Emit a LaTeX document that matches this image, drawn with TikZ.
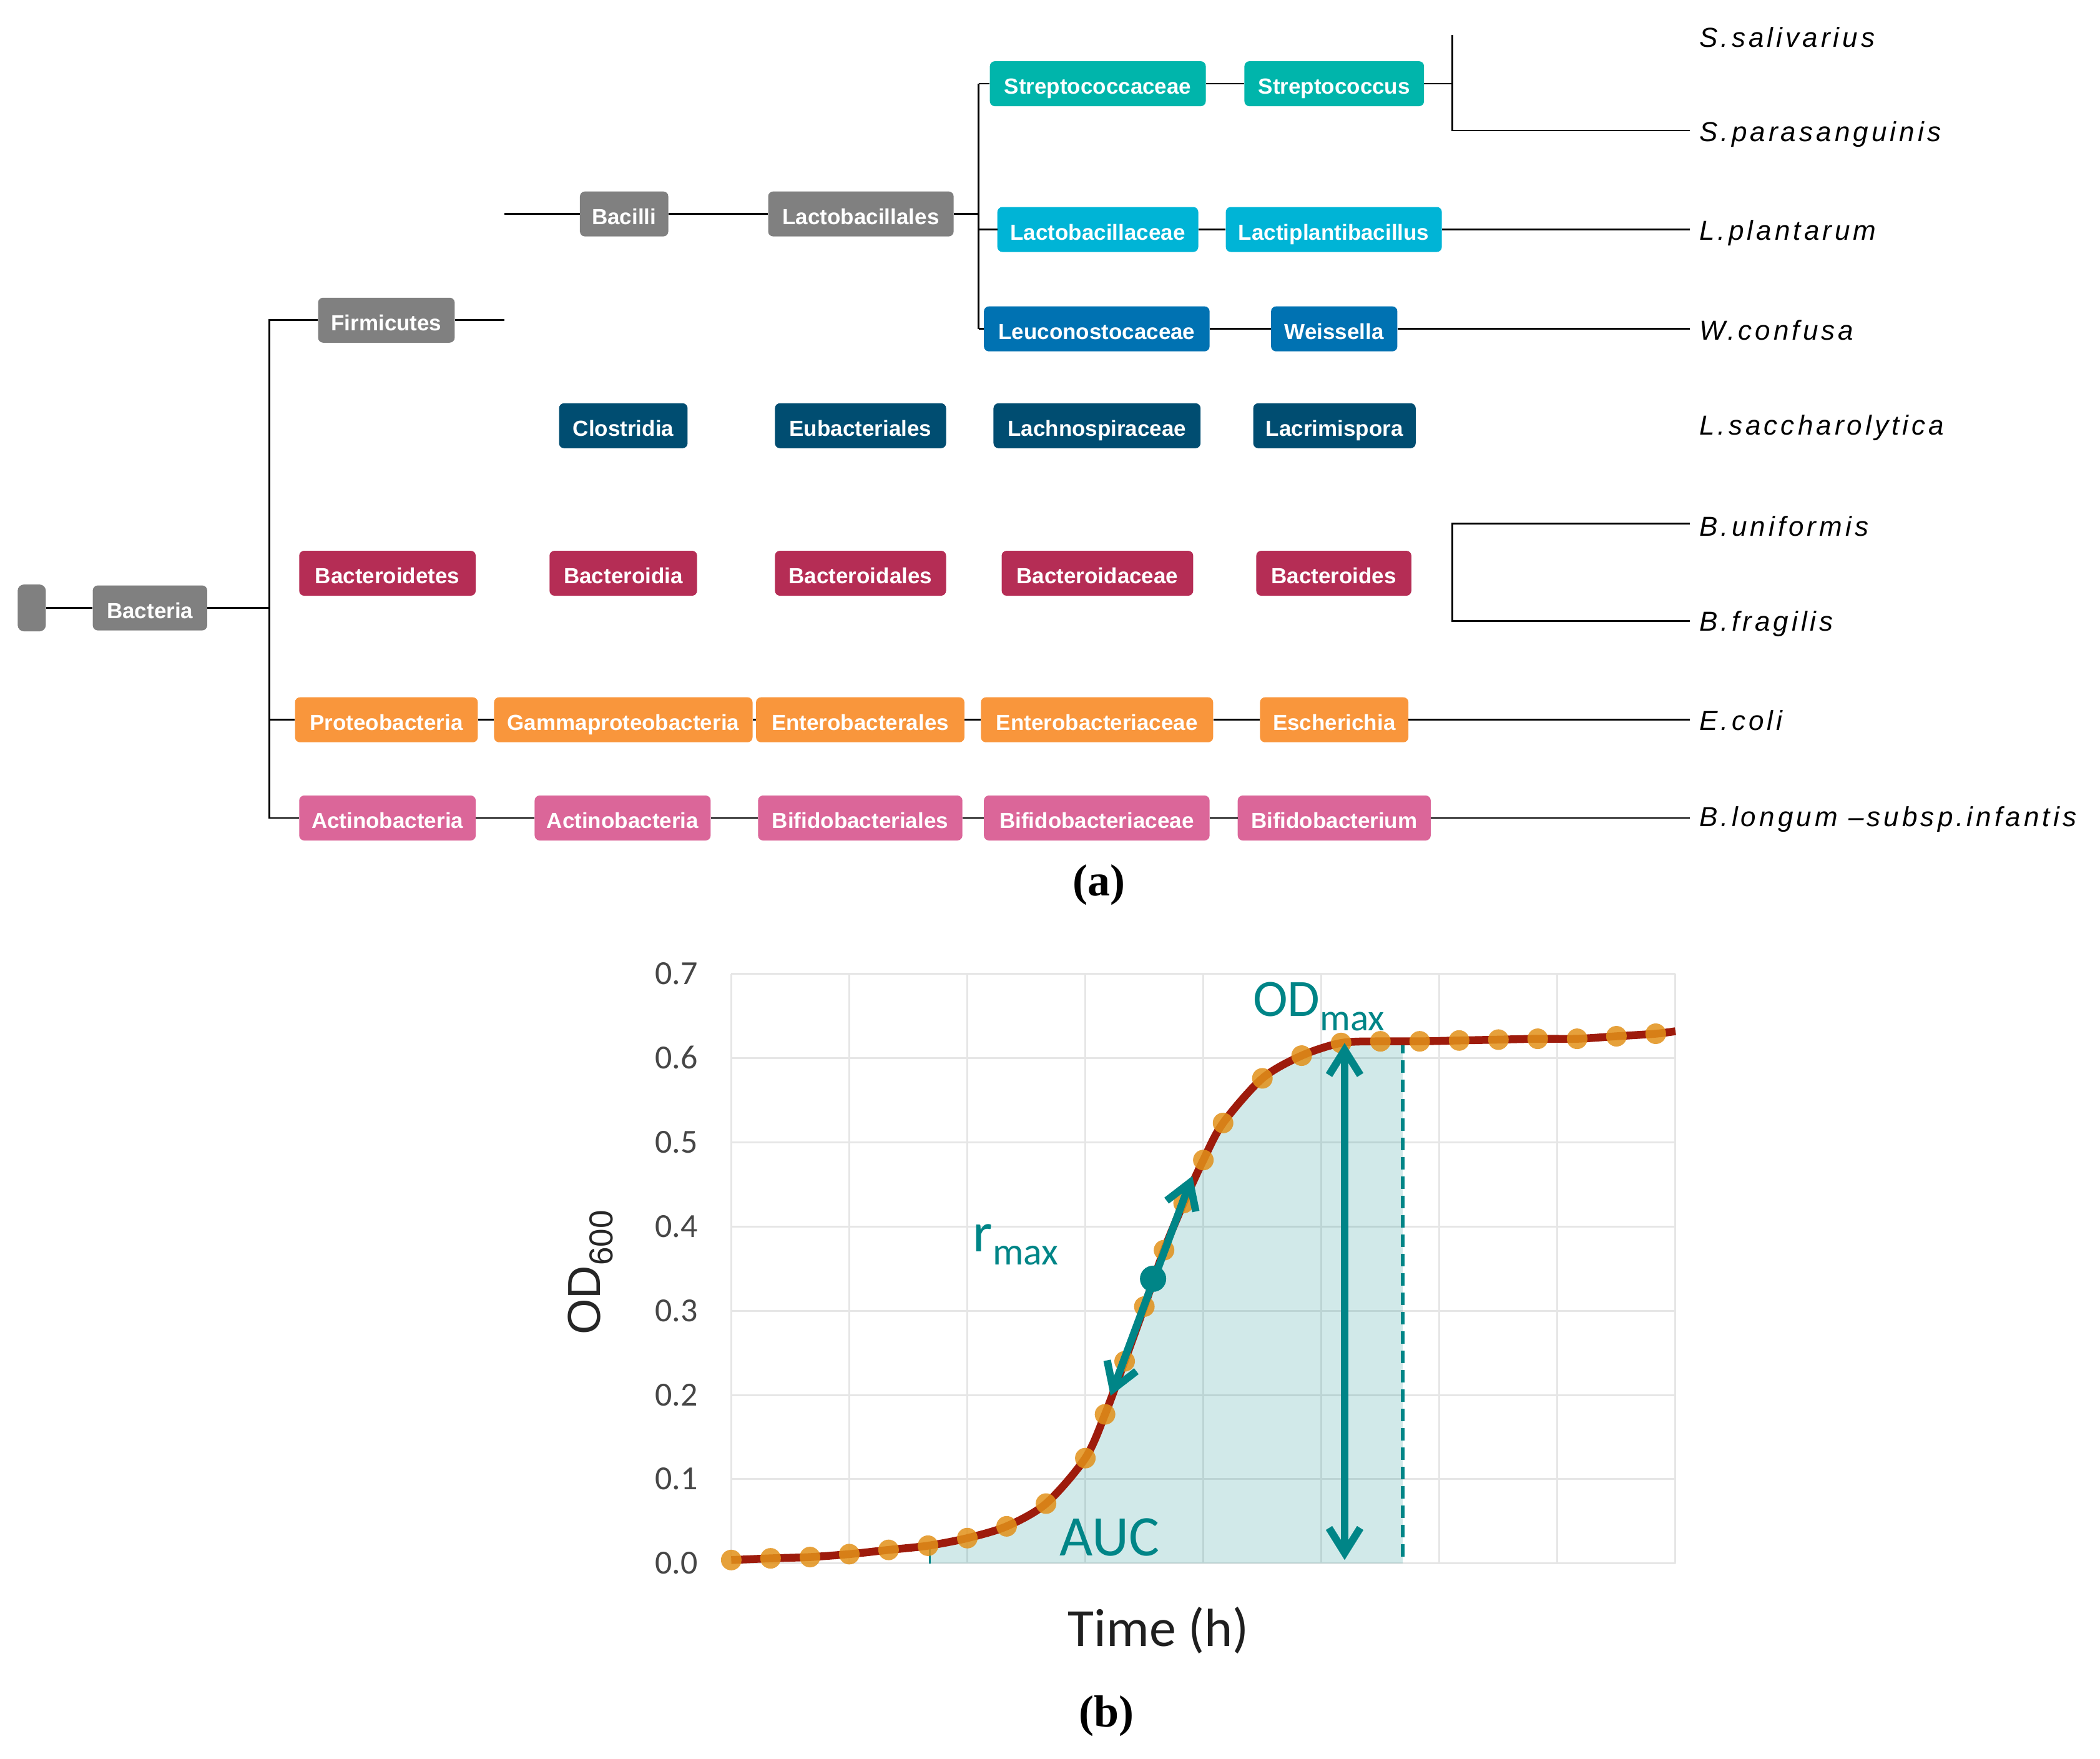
\documentclass[tikz,border=0pt]{standalone}
\usepackage{fontspec}
\setmainfont{Liberation Sans}
\newfontfamily\spfont{Liberation Sans}[LetterSpace=11.6]
\newfontfamily\calfont{Carlito}
\newfontfamily\serfont{Liberation Serif}
\usetikzlibrary{arrows.meta}
\definecolor{gr}{RGB}{128,128,128}
\definecolor{cStrep}{RGB}{0,181,171}
\definecolor{cLacto}{RGB}{0,180,214}
\definecolor{cLeuc}{RGB}{0,114,178}
\definecolor{cClos}{RGB}{0,77,113}
\definecolor{cBact}{RGB}{181,45,85}
\definecolor{cProt}{RGB}{249,150,60}
\definecolor{cActi}{RGB}{219,102,153}
\definecolor{tealc}{RGB}{0,133,135}
\definecolor{curvec}{RGB}{158,27,12}
\definecolor{dotc}{RGB}{226,145,25}
\definecolor{gridc}{RGB}{230,230,230}
\definecolor{tickc}{RGB}{70,70,70}
\tikzset{
  tb/.style={rounded corners=8pt, minimum height=72pt, inner sep=0pt, text=white,
    font=\fontsize{35}{35}\selectfont\bfseries, text height=33pt, text depth=0pt},
  tbw/.style={minimum width=#1*2.1454pt},
  tl/.style={line width=2.8pt, black},
  sp/.style={anchor=west, inner xsep=15.4pt, inner ysep=0pt,
    font=\spfont\itshape\fontsize{44}{44}\selectfont, text height=31pt, text depth=0pt},
  gridl/.style={gridc, line width=3pt},
  ticklab/.style={anchor=east, inner sep=0pt, text=tickc, font=\calfont\fontsize{54}{54}\selectfont,
    text height=34pt, text depth=0pt},
  tealarrow/.style={tealc, line width=12pt, {Straight Barb[length=40pt,width=50pt]}-{Straight Barb[length=40pt,width=50pt]}},
}
\newcommand\tx[5]{\node[tb, fill=#2, tbw=#3] (#1) at (#4) {#5};}
\begin{document}
\begin{tikzpicture}[x=2.1454pt, y=-2.1454pt]
\useasboundingbox (0,0) rectangle (1568,1313);
% ---------- tree ----------
\node[rounded corners=10pt, fill=gr, minimum width=21*2.1454pt, minimum height=75pt, inner sep=0pt] (root) at (23.7,453.8) {};
\tx{bact}{gr}{85.4}{112,453.8}{Bacteria}
\tx{firm}{gr}{102}{288.5,239}{Firmicutes}
\tx{bacil}{gr}{66}{466,159.7}{Bacilli}
\tx{lactobl}{gr}{138.5}{642.8,159.7}{Lactobacillales}
\tx{strepf}{cStrep}{161.2}{819.7,62.5}{Streptococcaceae}
\tx{strepg}{cStrep}{134.1}{996.2,62.5}{Streptococcus}
\tx{lactf}{cLacto}{150}{819.7,171.3}{Lactobacillaceae}
\tx{lactg}{cLacto}{161.3}{995.9,171.3}{Lactiplantibacillus}
\tx{leucf}{cLeuc}{168.5}{818.9,245.5}{Leuconostocaceae}
\tx{weis}{cLeuc}{94.3}{996.2,245.5}{Weissella}
\tx{clos}{cClos}{96}{465.4,317.8}{Clostridia}
\tx{eubac}{cClos}{127.8}{642.5,317.8}{Eubacteriales}
\tx{lachn}{cClos}{154.6}{819.1,317.8}{Lachnospiraceae}
\tx{lacri}{cClos}{121.3}{996.4,317.8}{Lacrimispora}
\tx{bdtes}{cBact}{131.8}{289.3,427.9}{Bacteroidetes}
\tx{bdia}{cBact}{110.2}{465.4,427.9}{Bacteroidia}
\tx{bdales}{cBact}{127.8}{642.5,427.9}{Bacteroidales}
\tx{bdceae}{cBact}{143}{819.4,427.9}{Bacteroidaceae}
\tx{bdes}{cBact}{115.8}{995.9,427.9}{Bacteroides}
\tx{prot}{cProt}{136.5}{288.5,537.3}{Proteobacteria}
\tx{gamma}{cProt}{193}{465.4,537.3}{Gammaproteobacteria}
\tx{entales}{cProt}{155.6}{642.3,537.3}{Enterobacterales}
\tx{entceae}{cProt}{173.4}{819.1,537.3}{Enterobacteriaceae}
\tx{esch}{cProt}{110.8}{996.2,537.3}{Escherichia}
\tx{actia}{cActi}{131.8}{289.3,610.6}{Actinobacteria}
\tx{actib}{cActi}{131.4}{464.9,610.6}{Actinobacteria}
\tx{bifales}{cActi}{152.6}{642.3,610.6}{Bifidobacteriales}
\tx{bifceae}{cActi}{168.5}{818.9,610.6}{Bifidobacteriaceae}
\tx{bifium}{cActi}{144.1}{996.2,610.6}{Bifidobacterium}
% species
\node[sp] (sp1) at (1261.6,27.8) {S.salivarius};
\node[sp] (sp2) at (1261.6,98.4) {S.parasanguinis};
\node[sp] (sp3) at (1261.6,172) {L.plantarum};
\node[sp] (sp4) at (1261.6,246.4) {W.confusa};
\node[sp] (sp5) at (1261.6,317.2) {L.saccharolytica};
\node[sp] (sp6) at (1261.6,392.9) {B.uniformis};
\node[sp] (sp7) at (1261.6,463.6) {B.fragilis};
\node[sp] (sp8) at (1261.6,537.7) {E.coli};
\node[sp] (sp9) at (1261.6,609.6) {B.longum –subsp.infantis};
% helper coordinates
\coordinate (mv) at (201.1,239);
\coordinate (fs1) at (376.5,239);
\coordinate (fs2) at (376.5,159.7);
\coordinate (lvt) at (730.7,62.5);
\coordinate (lvb) at (730.7,245.5);
\coordinate (sbt) at (1084.3,26.2);
\coordinate (sbb) at (1084.3,97.4);
\coordinate (bb1) at (1084.3,390.7);
\coordinate (bb2) at (1084.3,463.5);
% connectors
\draw[tl] (root.east) -- (bact.west);
\draw[tl] (bact.east) -- (bact.east -| mv);
\draw[tl] (firm.west) -- (firm.west -| mv) -- (actia.west -| mv) -- (actia.west);
\draw[tl] (prot.west -| mv) -- (prot.west);
\draw[tl] (firm.east) -- (firm.east -| fs1);
\draw[tl] (bacil.west -| fs2) -- (bacil.west);
\draw[tl] (bacil.east) -- (lactobl.west);
\draw[tl] (lactobl.east) -- (lactobl.east -| lvt);
\draw[tl] (lvt) -- (lvb);
\draw[tl] (strepf.west -| lvt) -- (strepf.west);
\draw[tl] (lactf.west -| lvt) -- (lactf.west);
\draw[tl] (leucf.west -| lvt) -- (leucf.west);
\draw[tl] (strepf.east) -- (strepg.west);
\draw[tl] (strepg.east) -- (strepg.east -| sbt);
\draw[tl] (sbt) -- (sbb) -- (sbb -| sp2.west);
\draw[tl] (lactf.east) -- (lactg.west);
\draw[tl] (lactg.east) -- (lactg.east -| sp3.west);
\draw[tl] (leucf.east) -- (weis.west);
\draw[tl] (weis.east) -- (weis.east -| sp4.west);
\draw[tl] (bb1 -| sp6.west) -- (bb1) -- (bb2) -- (bb2 -| sp7.west);
\draw[tl] (prot.east) -- (gamma.west);
\draw[tl] (gamma.east) -- (entales.west);
\draw[tl] (entales.east) -- (entceae.west);
\draw[tl] (entceae.east) -- (esch.west);
\draw[tl] (esch.east) -- (esch.east -| sp8.west);
\draw[tl] (actia.east) -- (actib.west);
\draw[tl] (actib.east) -- (bifales.west);
\draw[tl] (bifales.east) -- (bifceae.west);
\draw[tl] (bifceae.east) -- (bifium.west);
\draw[tl] (bifium.east) -- (bifium.east -| sp9.west);
\node[font=\serfont\bfseries\fontsize{72}{72}\selectfont, inner sep=0pt] (la) at (820.8,660.6) {(a)};
% ---------- chart ----------
\begin{scope}[shift={(546,1167)}, x=189.06pt, y=1348.5pt]
  \foreach \i in {0,...,8} \draw[gridl] (\i,0) -- (\i,0.7);
  \foreach \j in {0,0.1,0.2,0.3,0.4,0.5,0.6,0.7} \draw[gridl] (0,\j) -- (8,\j);
  \foreach \j in {0.0,0.1,0.2,0.3,0.4,0.5,0.6,0.7} \node[ticklab] at (-0.284,\j) {\j};
  \begin{scope}
    \clip (1.685,0) rectangle (5.69,0.7);
    \fill[tealc, fill opacity=0.18] plot[smooth] coordinates {(0,0.004) (0.333,0.006) (0.667,0.0075) (1,0.011) (1.333,0.016) (1.667,0.021) (2,0.030) (2.333,0.044) (2.667,0.071) (3,0.125) (3.167,0.177) (3.333,0.240) (3.5,0.305) (3.667,0.372) (3.833,0.428) (4,0.479) (4.167,0.523) (4.5,0.576) (4.833,0.603) (5.167,0.618) (5.5,0.620) (5.833,0.620) (6.167,0.621) (6.5,0.622) (6.833,0.623) (7.167,0.623) (7.5,0.626) (7.833,0.629) (8,0.632)} -- (8,0) -- (0,0) -- cycle;
  \end{scope}
  \draw[tealc, line width=3pt] (1.685,0) -- (1.685,0.019);
  \draw[tealc, line width=6pt, dash pattern=on 20pt off 11pt] (5.69,0.008) -- (5.69,0.617);
  \draw[curvec, line width=12.5pt] plot[smooth] coordinates {(0,0.004) (0.333,0.006) (0.667,0.0075) (1,0.011) (1.333,0.016) (1.667,0.021) (2,0.030) (2.333,0.044) (2.667,0.071) (3,0.125) (3.167,0.177) (3.333,0.240) (3.5,0.305) (3.667,0.372) (3.833,0.428) (4,0.479) (4.167,0.523) (4.5,0.576) (4.833,0.603) (5.167,0.618) (5.5,0.620) (5.833,0.620) (6.167,0.621) (6.5,0.622) (6.833,0.623) (7.167,0.623) (7.5,0.626) (7.833,0.629) (8,0.632)};
  \foreach \x/\y in {0/0.004, 0.333/0.006, 0.667/0.0075, 1/0.011, 1.333/0.016, 1.667/0.021, 2/0.030, 2.333/0.044, 2.667/0.071, 3/0.125, 3.167/0.177, 3.333/0.240, 3.5/0.305, 3.667/0.372, 3.833/0.428, 4/0.479, 4.167/0.523, 4.5/0.576, 4.833/0.603, 5.167/0.618, 5.5/0.620, 5.833/0.620, 6.167/0.621, 6.5/0.622, 6.833/0.623, 7.167/0.623, 7.5/0.626, 7.833/0.629}
    \fill[dotc, fill opacity=0.85] (\x,\y) circle (16.5pt);
  \coordinate (odb) at (5.197,0.004);
  \coordinate (odt) at (5.197,0.618);
  \draw[tealarrow] (odb) -- (odt);
  \coordinate (rlo) at (3.214,0.199);
  \coordinate (rhi) at (3.907,0.460);
  \draw[tealarrow] (rlo) -- (rhi);
  \node[circle, fill=tealc, minimum size=42pt, inner sep=0pt] (rdot) at (3.574,0.338) {};
\end{scope}
\node[rotate=90, anchor=base west, inner sep=0pt, text=black!85, font=\fontsize{74}{74}\selectfont] (ylab) at (448.3,996.5) {OD\raisebox{-20pt}{\fontsize{53}{53}\selectfont 600}};
\node[anchor=base west, inner sep=0pt, text=tealc, font=\calfont\fontsize{84}{84}\selectfont] (odmax) at (935.5,758.6) {OD\raisebox{-23pt}{\fontsize{61}{61}\selectfont max}};
\node[anchor=base west, inner sep=0pt, text=tealc, font=\calfont\fontsize{90}{90}\selectfont] (rmax) at (726.5,934.2) {r\raisebox{-21pt}{\fontsize{62}{62}\selectfont max}};
\node[anchor=base west, inner sep=0pt, text=tealc, font=\calfont\fontsize{92}{92}\selectfont] (auc) at (791,1161.4) {AUC};
\node[inner sep=0pt, text=black!88, font=\calfont\fontsize{86}{86}\selectfont] (xlab) at (865,1217) {Time (h)};
\node[font=\serfont\bfseries\fontsize{72}{72}\selectfont, inner sep=0pt] (lb) at (826,1281) {(b)};
\end{tikzpicture}
\end{document}
